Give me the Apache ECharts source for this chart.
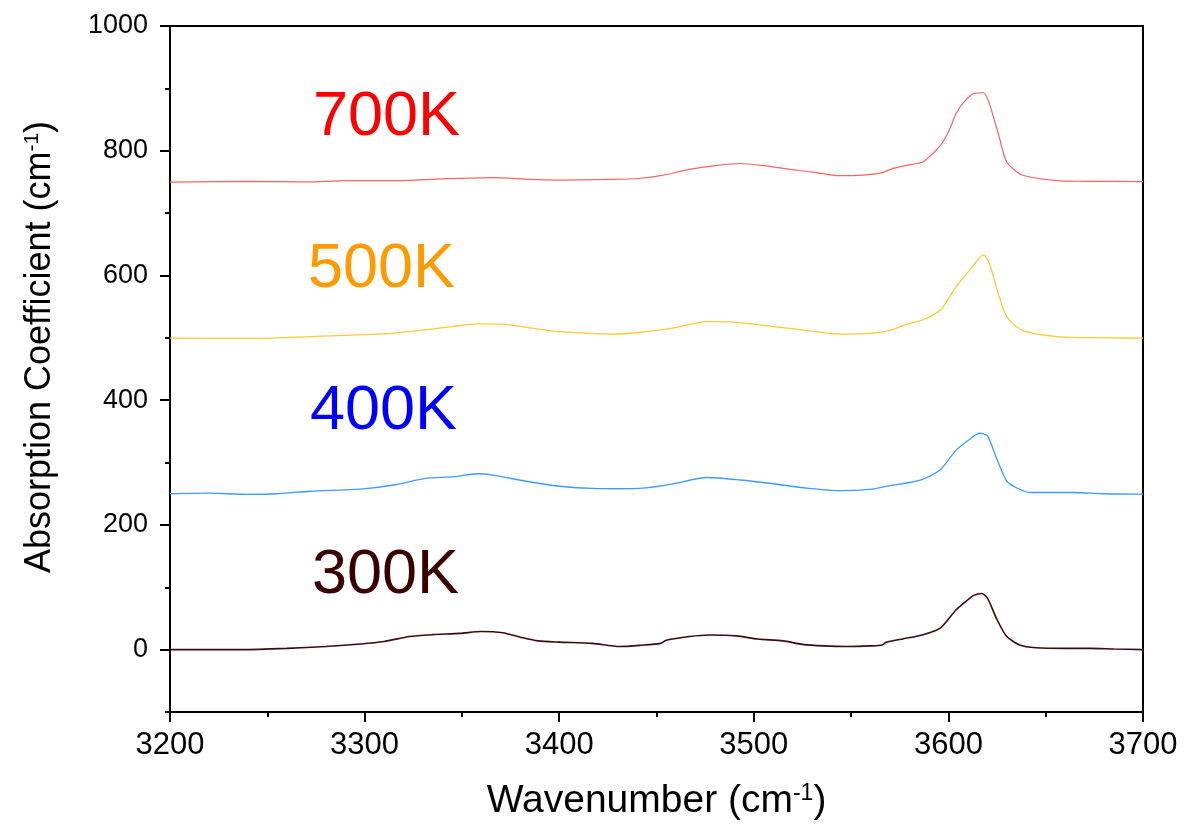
<!DOCTYPE html>
<html>
<head>
<meta charset="utf-8">
<title>Absorption spectra</title>
<script src="https://cdn.jsdelivr.net/npm/echarts@6/dist/echarts.min.js"></script>
<style>
  html, body { margin: 0; padding: 0; background: #fff; }
  #chart { width: 1186px; height: 835px; }
</style>
</head>
<body>
<div id="chart"></div>
<script>
// Temperature labels for each spectrum
const temperatures = ['300K', '400K', '500K', '700K'];

// Spectra: [wavenumber (cm^-1), absorption coefficient (cm^-1)], offset per temperature
const spectrum300K = [
  [3200,0],[3220,0],[3237,0],[3260,2],[3280,5],[3298,9],[3310,13],[3323,21],[3335,24],
  [3349,26],[3360,29],[3371,27],[3380,20],[3389,14],[3400,12],[3417,10],[3431,5],[3442,7],
  [3452,10],[3455,15],[3467,21],[3477,23.5],[3491,22],[3502,17],[3515,14],[3525,8.5],
  [3536,6],[3548,5],[3560,6],[3566,7.5],[3568,12],[3577,17.5],[3587,24],[3596,35],
  [3604,64],[3610,80],[3613,87],[3617,90],[3620,83],[3625,48],[3630,21],[3637,7],
  [3645,3],[3660,2],[3673,2],[3685,1],[3700,0]
];
const spectrum400K = [
  [3200,250],[3220,251],[3240,249],[3255,250],[3272,254],[3298,257.5],[3315,264],
  [3332,275],[3345,277],[3358,282],[3366,280],[3383,270],[3400,262],[3417,258.5],
  [3430,258],[3443,259],[3458,265.5],[3476,276],[3493,272],[3510,266],[3527,259],
  [3544,255],[3561,257.5],[3570,263],[3580,268],[3587,273.5],[3596,289],[3604,320],
  [3610,335],[3616,347],[3620,343],[3625,305],[3630,270],[3636,258],[3642,252],
  [3664,252],[3680,250],[3700,249.5]
];
const spectrum500K = [
  [3200,499.5],[3246,499],[3272,502],[3300,505],[3315,507.5],[3332,513],[3345,518],
  [3358,522.5],[3371,522],[3385,516],[3400,510],[3426,506],[3441,508.5],[3458,515.5],
  [3476,526],[3488,525.5],[3510,518],[3527,512],[3544,506],[3561,507.5],[3570,512],
  [3579,522],[3587,529],[3596,545],[3604,582],[3610,605],[3613,617],[3618,633],
  [3621,620],[3625,577],[3630,534],[3638,512],[3656,502],[3680,500],[3700,499.5]
];
const spectrum700K = [
  [3200,749.5],[3240,751],[3270,750],[3290,752],[3315,752],[3340,755],[3366,757],
  [3385,754],[3400,753],[3425,754],[3441,755.5],[3452,760],[3467,770],[3480,776],
  [3493,779.5],[3505,776],[3519,770],[3532,765],[3544,760],[3556,761],[3565,764],
  [3572,772],[3579,777],[3587,782.5],[3596,809],[3600,830],[3604,860],[3608,878],
  [3613,892],[3618,893],[3621,876],[3626,823],[3630,782],[3638,761],[3656,752],
  [3670,751],[3700,750.5]
];

// Axis tick values
const yLabelValues = [0, 200, 400, 600, 800, 1000];
const yMinorValues = [-100, 100, 300, 500, 700, 900];

const chart = echarts.init(document.getElementById('chart'), null, { renderer: 'canvas' });

const FONT = 'Liberation Sans, Arial, sans-serif';
const lineColors = { '300K': '#3c0a0a', '400K': '#3d9bff', '500K': '#ffc933', '700K': '#ff6060' };
const textColors = { '300K': '#3a0000', '400K': '#0000ff', '500K': '#ff9a00', '700K': '#ff0000' };
const lineWidths = { '300K': 1.6, '400K': 1.3, '500K': 1.3, '700K': 1.2 };
const spectra = { '300K': spectrum300K, '400K': spectrum400K, '500K': spectrum500K, '700K': spectrum700K };

// Label anchor (left edge, vertical centre) for each temperature tag
const tagPos = { '700K': [313, 118], '500K': [308, 270], '400K': [310, 412], '300K': [312, 576] };

function supRich(size) {
  return {
    base: { fontSize: size, fontFamily: FONT, color: '#000' },
    sup: { fontSize: Math.round(size * 0.58), fontFamily: FONT, color: '#000', verticalAlign: 'top', padding: [0, 0, Math.round(size * 0.4), 0] }
  };
}

const plain = v => String(v);

chart.setOption({
  animation: false,
  backgroundColor: '#fff',
  grid: { left: 170, right: 43, top: 26, bottom: 123, show: true, borderColor: '#000', borderWidth: 2, backgroundColor: 'transparent' },
  xAxis: {
    type: 'value', min: 3200, max: 3700, interval: 100,
    name: '{base|Wavenumber (cm}{sup|-1}{base|)}',
    nameLocation: 'middle', nameGap: 70,
    nameTextStyle: { rich: supRich(39) },
    axisLine: { show: true, onZero: false, lineStyle: { color: '#000', width: 2 } },
    axisTick: { show: true, inside: false, length: 10, lineStyle: { color: '#000', width: 2 } },
    minorTick: { show: true, splitNumber: 2, length: 5, lineStyle: { color: '#000', width: 2 } },
    axisLabel: { fontSize: 31, fontFamily: FONT, color: '#000', margin: 18, formatter: plain },
    splitLine: { show: false }
  },
  yAxis: [{
    type: 'value', min: -100, max: 1000, interval: 100,
    name: '{base|Absorption Coefficient (cm}{sup|-1}{base|)}',
    nameLocation: 'middle', nameGap: 112, nameRotate: 90,
    nameTextStyle: { rich: supRich(36), padding: [0, 0, 0, 44] },
    axisLine: { show: true, onZero: false, lineStyle: { color: '#000', width: 2 } },
    axisTick: { show: true, inside: false, length: 10, customValues: yLabelValues, lineStyle: { color: '#000', width: 2 } },
    axisLabel: { fontSize: 27, fontFamily: FONT, color: '#000', margin: 22, customValues: yLabelValues, formatter: plain },
    splitLine: { show: false }
  }, {
    type: 'value', min: -100, max: 1000, interval: 100, position: 'left',
    axisLine: { show: false, onZero: false },
    axisTick: { show: true, inside: false, length: 5, customValues: yMinorValues, lineStyle: { color: '#000', width: 2 } },
    axisLabel: { show: false },
    splitLine: { show: false }
  }],
  series: temperatures.map(t => ({
    name: t,
    type: 'line',
    data: spectra[t],
    showSymbol: false,
    smooth: 0.25,
    lineStyle: { color: lineColors[t], width: lineWidths[t] },
    z: 3
  })),
  graphic: temperatures.map(t => ({
    type: 'text',
    x: tagPos[t][0],
    y: tagPos[t][1],
    style: {
      text: t,
      fill: textColors[t],
      font: '63px ' + FONT,
      textAlign: 'left',
      textVerticalAlign: 'middle'
    },
    z: 10
  }))
});
</script>
</body>
</html>
